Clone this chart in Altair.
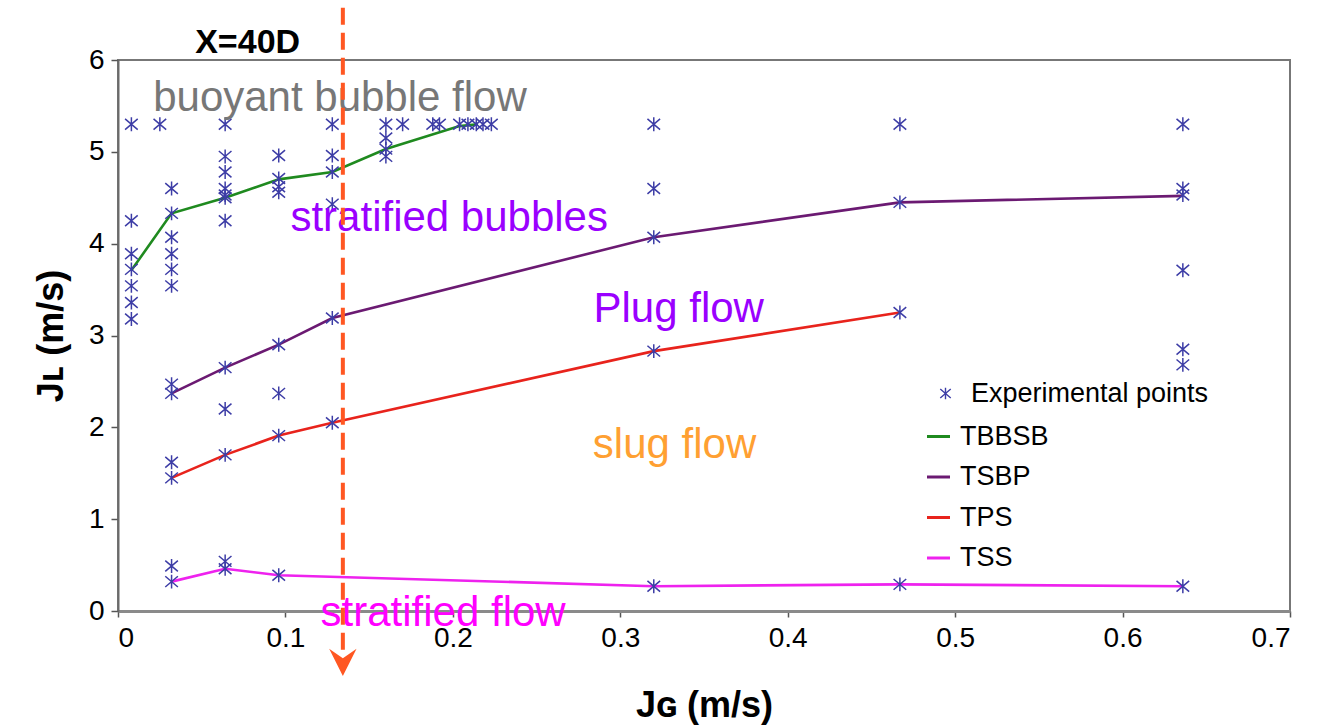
import altair as alt
import pandas as pd

# ---------------- data ----------------
# experimental points (J_G, J_L)
exp_x_008 = [0.008] * 7
exp_y_008 = [5.3, 4.25, 3.89, 3.72, 3.54, 3.36, 3.18]
exp_x_025 = [0.025]
exp_y_025 = [5.3]
exp_x_032 = [0.032] * 12
exp_y_032 = [4.6, 4.33, 4.07, 3.89, 3.72, 3.54, 2.47, 2.37, 1.62, 1.45, 0.49, 0.32]
exp_x_064 = [0.064] * 12
exp_y_064 = [5.3, 4.95, 4.78, 4.6, 4.53, 4.5, 4.25, 2.65, 2.2, 1.7, 0.54, 0.46]
exp_x_096 = [0.096] * 8
exp_y_096 = [4.96, 4.71, 4.62, 4.56, 2.9, 2.37, 1.91, 0.39]
exp_x_128 = [0.128] * 6
exp_y_128 = [5.3, 4.96, 4.78, 4.43, 3.19, 2.05]
exp_x_160 = [0.16] * 4
exp_y_160 = [5.3, 5.15, 5.03, 4.95]
exp_x_top = [0.17, 0.188, 0.192, 0.204, 0.209, 0.214, 0.218, 0.223]
exp_y_top = [5.3] * 8
exp_x_320 = [0.32] * 5
exp_y_320 = [5.3, 4.6, 4.07, 2.83, 0.27]
exp_x_467 = [0.467] * 4
exp_y_467 = [5.3, 4.45, 3.25, 0.29]
exp_x_636 = [0.636] * 7
exp_y_636 = [5.3, 4.6, 4.53, 3.71, 2.85, 2.68, 0.27]

# transition lines
tbbsb_x = [0.008, 0.032, 0.064, 0.096, 0.128, 0.16, 0.204, 0.215]
tbbsb_y = [3.71, 4.33, 4.5, 4.7, 4.78, 5.03, 5.28, 5.3]
tsbp_x = [0.032, 0.064, 0.096, 0.128, 0.32, 0.467, 0.636]
tsbp_y = [2.37, 2.65, 2.9, 3.19, 4.07, 4.45, 4.52]
tps_x = [0.032, 0.064, 0.096, 0.128, 0.32, 0.467]
tps_y = [1.45, 1.7, 1.91, 2.05, 2.83, 3.25]
tss_x = [0.032, 0.064, 0.096, 0.32, 0.467, 0.636]
tss_y = [0.32, 0.46, 0.39, 0.27, 0.29, 0.27]

series_names = ["TBBSB", "TSBP", "TPS", "TSS"]
series_colors = ["#1f8a1f", "#6b1a72", "#e8231c", "#ee22ee"]

# region labels
region_text = ["buoyant bubble flow", "stratified bubbles", "Plug flow", "slug flow", "stratified flow"]
region_x = [0.021, 0.103, 0.284, 0.2836, 0.121]
region_y = [5.45, 4.14, 3.145, 1.67, -0.165]
region_color = ["#777777", "#9a00ff", "#9a00ff", "#ffa032", "#ff00ff"]

# chart heading (position label), drawn above the plot frame
heading_text = ["X=40D"]
heading_x = [0.0461]
heading_y = [6.076]

# observation position marker (dashed arrow)
arrow_x = [0.1343]
arrow_top = [6.57]
arrow_bottom = [-0.49]
arrow_head_y = [-0.56]

x_ticks = [0, 0.1, 0.2, 0.3, 0.4, 0.5, 0.6, 0.7]
y_ticks = [0, 1, 2, 3, 4, 5, 6]

# ---------------- frames ----------------
exp_x = (exp_x_008 + exp_x_025 + exp_x_032 + exp_x_064 + exp_x_096 + exp_x_128
         + exp_x_160 + exp_x_top + exp_x_320 + exp_x_467 + exp_x_636)
exp_y = (exp_y_008 + exp_y_025 + exp_y_032 + exp_y_064 + exp_y_096 + exp_y_128
         + exp_y_160 + exp_y_top + exp_y_320 + exp_y_467 + exp_y_636)
pts = pd.DataFrame({"jg": exp_x, "jl": exp_y, "kind": "Experimental points"})

rows = []
for name, xs, ys in zip(series_names, [tbbsb_x, tsbp_x, tps_x, tss_x],
                        [tbbsb_y, tsbp_y, tps_y, tss_y]):
    for a, b in zip(xs, ys):
        rows.append({"jg": a, "jl": b, "series": name})
lines_df = pd.DataFrame(rows)

labels_df = pd.DataFrame({"jg": region_x, "jl": region_y, "txt": region_text, "col": region_color})
heading_df = pd.DataFrame({"jg": heading_x, "jl": heading_y, "txt": heading_text})
arrow_df = pd.DataFrame({"jg": arrow_x, "top": arrow_top, "bottom": arrow_bottom, "head": arrow_head_y})

FONT = "Liberation Sans"
STAR = "M-1,-0.85L1,0.85M-1,0.85L1,-0.85M0,-1.1L0,1.1"
STAR_COLOR = "#3d3da6"
ORANGE = "#ff5722"
ARROW = "M-1,-1L0,-0.3L1,-1L0,1Z"

xscale = alt.Scale(domain=[0, 0.7], nice=False, zero=False)
yscale = alt.Scale(domain=[0, 6], nice=False)

xaxis = alt.Axis(values=x_ticks, format="~g", title="Jɢ (m/s)", grid=False,
                 labelFontSize=28, titleFontSize=36, titleFontWeight="bold",
                 labelPadding=7, tickSize=6, titlePadding=36,
                 domainColor="#8a8a8a", domainWidth=3)
yaxis = alt.Axis(values=y_ticks, format="~g", title="Jʟ (m/s)", grid=False,
                 labelFontSize=28, titleFontSize=36, titleFontWeight="bold",
                 labelPadding=7, tickSize=7, titlePadding=18,
                 domainColor="#6a6a6a", domainWidth=2)

lines = alt.Chart(lines_df).mark_line(strokeWidth=2.6).encode(
    x=alt.X("jg:Q", scale=xscale, axis=xaxis),
    y=alt.Y("jl:Q", scale=yscale, axis=yaxis),
    color=alt.Color("series:N", sort=series_names,
                    scale=alt.Scale(domain=series_names, range=series_colors),
                    legend=alt.Legend(title=None, orient="none", legendX=807, legendY=363,
                                      symbolType="stroke", symbolSize=529, symbolStrokeWidth=3,
                                      labelFontSize=27, labelFont=FONT, labelColor="black",
                                      labelOffset=8, rowPadding=12.5, labelLimit=400, padding=0)),
)

points = alt.Chart(pts).mark_point(shape=STAR, filled=False, strokeWidth=1.5, size=160,
                                   color=STAR_COLOR, opacity=1).encode(
    x=alt.X("jg:Q", scale=xscale),
    y=alt.Y("jl:Q", scale=yscale),
    shape=alt.Shape("kind:N", scale=alt.Scale(domain=["Experimental points"], range=[STAR]),
                    legend=alt.Legend(title=None, orient="none", legendX=814, legendY=320,
                                      symbolSize=110, symbolStrokeColor=STAR_COLOR,
                                      symbolFillColor="transparent", symbolStrokeWidth=1.4,
                                      labelFontSize=27, labelFont=FONT, labelColor="black",
                                      labelOffset=12, labelLimit=400, padding=0)),
)

texts = alt.Chart(labels_df).mark_text(align="left", baseline="alphabetic", fontSize=42,
                                       font=FONT).encode(
    x=alt.X("jg:Q", scale=xscale),
    y=alt.Y("jl:Q", scale=yscale),
    text="txt:N",
    color=alt.Color("col:N", scale=None, legend=None),
)

heading = alt.Chart(heading_df).mark_text(align="left", baseline="alphabetic", fontSize=34,
                                          fontWeight="bold", font=FONT, color="black").encode(
    x=alt.X("jg:Q", scale=xscale),
    y=alt.Y("jl:Q", scale=yscale),
    text="txt:N",
)

rule = alt.Chart(arrow_df).mark_rule(strokeWidth=4, strokeDash=[17, 8], color=ORANGE).encode(
    x=alt.X("jg:Q", scale=xscale),
    y=alt.Y("top:Q", scale=yscale),
    y2="bottom:Q",
)

head = alt.Chart(arrow_df).mark_point(shape=ARROW, filled=True, size=750, color=ORANGE,
                                      opacity=1, strokeWidth=0).encode(
    x=alt.X("jg:Q", scale=xscale),
    y=alt.Y("head:Q", scale=yscale),
)

chart = alt.layer(lines, points, texts, heading, rule, head).resolve_legend(
    color="independent", shape="independent"
).properties(
    width=1172,
    height=551,
    padding={"left": 118, "top": 60, "right": 28, "bottom": 116},
    autosize=alt.AutoSizeParams(type="none"),
).configure_view(
    stroke="#777777", strokeWidth=2
).configure_axis(
    labelFont=FONT, titleFont=FONT, labelColor="black", titleColor="black",
    tickColor="#555555", tickWidth=1.5
)

chart.save("out.html", embed_options={"renderer": "svg", "actions": False})
